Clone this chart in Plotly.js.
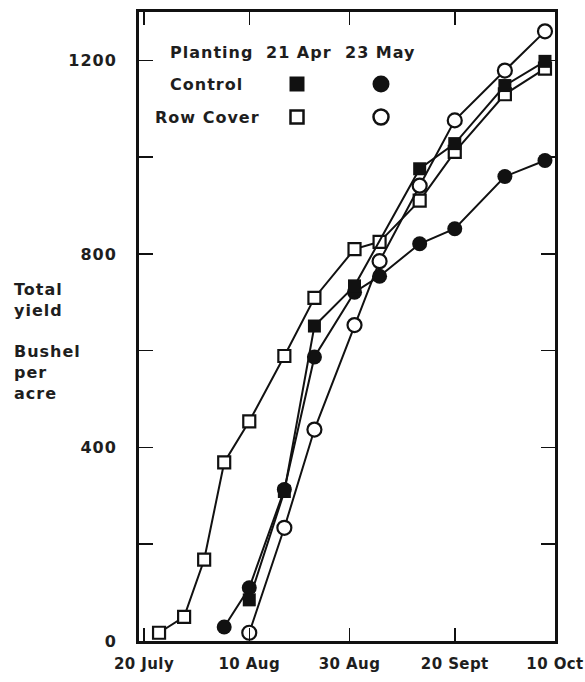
<!DOCTYPE html>
<html>
<head>
<meta charset="utf-8">
<script src="https://cdn.plot.ly/plotly-3.0.1.min.js"></script>
<style>
  html, body { margin: 0; padding: 0; background: #fff; }
  #chart { width: 585px; height: 682px; }
  svg text { letter-spacing: 1px; }
  svg .xtick text { letter-spacing: 0.4px; }
</style>
</head>
<body>
<div id="chart"></div>
<script>
// ---- Data (harvest date, cumulative total yield in bushel per acre) ----
const rowCover21AprDates = ['1986-07-23','1986-07-28','1986-08-01','1986-08-05','1986-08-10','1986-08-17','1986-08-23','1986-08-31','1986-09-05','1986-09-13','1986-09-20','1986-09-30','1986-10-08'];
const rowCover21AprYield = [17, 50, 168, 369, 454, 589, 709, 810, 825, 910, 1011, 1130, 1183];

const control21AprDates = ['1986-08-10','1986-08-17','1986-08-23','1986-08-31','1986-09-13','1986-09-20','1986-09-30','1986-10-08'];
const control21AprYield = [85, 309, 651, 734, 976, 1028, 1148, 1198];

const control23MayDates = ['1986-08-05','1986-08-10','1986-08-17','1986-08-23','1986-08-31','1986-09-05','1986-09-13','1986-09-20','1986-09-30','1986-10-08'];
const control23MayYield = [29, 110, 313, 587, 721, 754, 821, 852, 960, 993];

const rowCover23MayDates = ['1986-08-10','1986-08-17','1986-08-23','1986-08-31','1986-09-05','1986-09-13','1986-09-20','1986-09-30','1986-10-08'];
const rowCover23MayYield = [17, 234, 437, 653, 785, 941, 1076, 1179, 1260];

const xTickVals = ['1986-07-20','1986-08-10','1986-08-30','1986-09-20','1986-10-10'];
const xTickText = ['20 July','10 Aug','30 Aug','20 Sept','10 Oct'];
const yTickVals = [0, 200, 400, 600, 800, 1000, 1200];
const yTickText = ['0', '', '400', '', '800', '', '1200'];

const legendHeader = ['Planting', '21 Apr', '23 May'];
const legendRows = ['Control', 'Row Cover'];
const yTitleLines = ['Total', 'yield', '', 'Bushel', 'per', 'acre'];

// ---- Styling ----
const FONT = {family: 'DejaVu Sans, Arial, sans-serif', size: 16, color: '#1e1e1e', weight: 'bold'};
const XFONT = Object.assign({}, FONT, {size: 15});
const LINE = {color: '#111', width: 2};

function trace(x, y, symbol, filled, size) {
  return {
    x: x, y: y, type: 'scatter', mode: 'lines+markers',
    line: LINE,
    marker: {symbol: symbol, size: size, color: filled ? '#111' : '#fff',
             line: {color: '#111', width: filled ? 0 : 2.2}},
    hoverinfo: 'skip', showlegend: false
  };
}

const data = [
  trace(rowCover21AprDates, rowCover21AprYield, 'square', false, 12),
  trace(control23MayDates, control23MayYield, 'circle', true, 15),
  trace(control21AprDates, control21AprYield, 'square', true, 13),
  trace(rowCover23MayDates, rowCover23MayYield, 'circle', false, 14)
];

// plot-area geometry helpers (paper coords)
const L = 139, R = 555, T = 12, B = 641;
const px = v => (v - L) / (R - L);
const py = v => (B - v) / (B - T);

const annotations = [
  {text: legendHeader[0], x: px(168), y: py(52), xanchor: 'left'},
  {text: legendHeader[1], x: px(299), y: py(52), xanchor: 'center'},
  {text: legendHeader[2], x: px(380), y: py(52), xanchor: 'center'},
  {text: legendRows[0], x: px(168), y: py(84), xanchor: 'left'},
  {text: legendRows[1], x: px(153), y: py(117), xanchor: 'left'},
  {text: yTitleLines.join('<br>'), x: px(12), y: py(278), xanchor: 'left', yanchor: 'top', align: 'left'}
].map(a => Object.assign({xref: 'paper', yref: 'paper', showarrow: false, font: FONT, yanchor: 'middle'}, a));

function glyph(type, cx, cy, half, filled) {
  return {
    type: type, xref: 'paper', yref: 'paper', xsizemode: 'pixel', ysizemode: 'pixel',
    xanchor: px(cx), yanchor: py(cy), x0: -half, x1: half, y0: -half, y1: half,
    fillcolor: filled ? '#111' : '#fff',
    line: {color: '#111', width: filled ? 0 : 2.5}
  };
}
const shapes = [
  glyph('rect', 297, 84, 7.5, true),
  glyph('circle', 381, 84, 8.5, true),
  glyph('rect', 297, 117, 6.5, false),
  glyph('circle', 381, 117, 7.5, false)
];

const layout = {
  width: 585, height: 682,
  margin: {l: L, r: 585 - R, t: T, b: 682 - B},
  paper_bgcolor: '#fff', plot_bgcolor: '#fff',
  font: FONT,
  showlegend: false,
  xaxis: {
    type: 'date', range: ['1986-07-19', '1986-10-10'],
    tickmode: 'array', tickvals: xTickVals, ticktext: xTickText,
    ticks: 'inside', ticklen: 13, tickwidth: 1.5, tickcolor: '#111',
    showline: true, linewidth: 3, linecolor: '#111', mirror: 'ticks',
    showgrid: false, zeroline: false, tickfont: XFONT, ticklabelstandoff: 7,
    ticklabeloverflow: 'allow'
  },
  yaxis: {
    range: [0, 1300],
    tickmode: 'array', tickvals: yTickVals, ticktext: yTickText,
    ticks: 'inside', ticklen: 14, tickwidth: 1.5, tickcolor: '#111',
    showline: true, linewidth: 3, linecolor: '#111', mirror: 'ticks',
    showgrid: false, zeroline: false, tickfont: FONT, ticklabelstandoff: 16,
    ticklabeloverflow: 'allow'
  },
  annotations: annotations,
  shapes: shapes
};

Plotly.newPlot('chart', data, layout, {staticPlot: true, displayModeBar: false});
</script>
</body>
</html>
